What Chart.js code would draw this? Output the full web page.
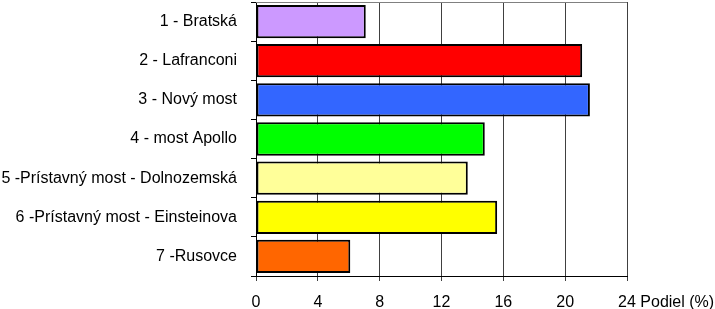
<!DOCTYPE html>
<html>
<head>
<meta charset="utf-8">
<script src="https://cdn.jsdelivr.net/npm/chart.js@4"></script>
<style>
  html, body { margin: 0; padding: 0; background: #fff; }
  canvas { display: block; }
</style>
</head>
<body>
<canvas id="podielChart" width="715" height="309"></canvas>
<script>
const categories = [
    '1 - Bratská',
    '2 - Lafranconi',
    '3 - Nový most',
    '4 - most Apollo',
    '5 -Prístavný most - Dolnozemská',
    '6 -Prístavný most - Einsteinova',
    '7 -Rusovce'
];
const podiel = [7.1, 21.1, 21.6, 14.8, 13.7, 15.6, 6.1];
const barColors = ['#CC99FF', '#FF0000', '#3366FF', '#00FF00', '#FFFF99', '#FFFF00', '#FF6600'];
const xTicks = [0, 4, 8, 12, 16, 20, 24];
const xUnit = 'Podiel (%)';

const fontFamily = '"Liberation Sans", Arial, sans-serif';
Chart.defaults.font.family = fontFamily;
Chart.defaults.font.size = 16;
Chart.defaults.color = '#000';

// top frame line and the unit text after the last x tick
const framePlugin = {
    id: 'frame',
    afterDraw(chart) {
        const c = chart.ctx;
        const area = chart.chartArea;
        const x = chart.scales.x;
        c.save();
        c.strokeStyle = '#808080';
        c.lineWidth = 1;
        c.beginPath();
        c.moveTo(area.left, area.top + 0.5);
        c.lineTo(area.right, area.top + 0.5);
        c.stroke();

        c.font = '16px ' + fontFamily;
        c.fillStyle = '#000';
        c.textAlign = 'left';
        c.textBaseline = 'middle';
        const last = xTicks[xTicks.length - 1];
        const px = x.getPixelForValue(last) + c.measureText(String(last)).width / 2;
        c.fillText(' ' + xUnit, px, x.top + 5 + 12 + 9.6);
        c.restore();
    }
};

const ctx = document.getElementById('podielChart').getContext('2d');
new Chart(ctx, {
    type: 'bar',
    data: {
        labels: categories,
        datasets: [{
            data: podiel,
            backgroundColor: barColors,
            borderColor: '#000',
            borderWidth: 2,
            borderSkipped: false,
            barPercentage: 0.85,
            categoryPercentage: 1
        }]
    },
    options: {
        indexAxis: 'y',
        responsive: false,
        animation: false,
        layout: { padding: { top: 2, right: 88, left: 0, bottom: 0 } },
        plugins: {
            legend: { display: false },
            tooltip: { enabled: false }
        },
        scales: {
            x: {
                min: 0,
                max: 24,
                afterBuildTicks(scale) {
                    scale.ticks = xTicks.map(v => ({ value: v }));
                },
                afterFit(scale) {
                    scale.height = 33;
                    scale.paddingLeft = 0;
                    scale.paddingRight = 0;
                },
                ticks: { padding: 12, maxRotation: 0 },
                grid: { color: '#404040', tickLength: 5, lineWidth: 1 },
                border: { color: '#000', width: 1 }
            },
            y: {
                offset: true,
                afterFit(scale) {
                    scale.width = 256;
                    scale.paddingTop = 0;
                    scale.paddingBottom = 0;
                },
                ticks: { padding: 14 },
                grid: { offset: true, drawOnChartArea: false, tickLength: 5, color: '#000' },
                border: { color: '#000', width: 1 }
            }
        }
    },
    plugins: [framePlugin]
});
</script>
</body>
</html>
